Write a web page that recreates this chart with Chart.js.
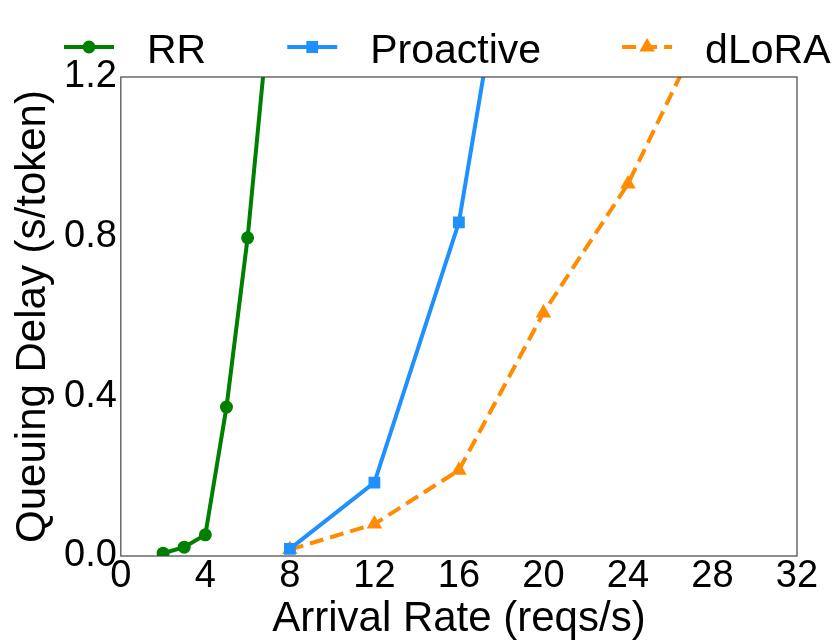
<!DOCTYPE html>
<html>
<head>
<meta charset="utf-8">
<script src="https://cdn.jsdelivr.net/npm/chart.js@4"></script>
<style>
  html, body { margin: 0; padding: 0; background: #fff; }
  #wrap { width: 838px; height: 640px; }
</style>
</head>
<body>
<div id="wrap"><canvas id="myChart"></canvas></div>
<script>
const FONT = "'Liberation Sans', Arial, sans-serif";

// arrival rate (reqs/s) -> queuing delay (s/token)
const rrRates = [2, 3, 4, 5, 6, 7];
const rrDelay = [0.007, 0.022, 0.053, 0.373, 0.797, 1.35];

const proactiveRates = [8, 12, 16, 20];
const proactiveDelay = [0.018, 0.184, 0.836, 2.1];

const dloraRates = [8, 12, 16, 20, 24, 28];
const dloraDelay = [0.016, 0.08, 0.215, 0.609, 0.932, 1.37];

const xTicks = [0, 4, 8, 12, 16, 20, 24, 28, 32];
const yTicks = [0, 0.4, 0.8, 1.2];

function toPoints(xs, ys) {
  return xs.map((x, i) => ({ x: x, y: ys[i] }));
}

// box around the plot area
const frame = {
  id: "frame",
  afterDraw(chart) {
    const { ctx, chartArea: a } = chart;
    ctx.save();
    ctx.strokeStyle = "#444";
    ctx.lineWidth = 1.2;
    ctx.strokeRect(a.left, a.top, a.right - a.left, a.bottom - a.top);
    ctx.restore();
  },
};

// legend row above the plot: line sample with marker, then name
const lineLegend = {
  id: "lineLegend",
  afterDraw(chart) {
    const ctx = chart.ctx;
    ctx.save();
    ctx.font = "41px " + FONT;
    ctx.textBaseline = "alphabetic";
    ctx.fillStyle = "#000";
    let x = 64;
    const y = 47;
    chart.data.datasets.forEach((ds) => {
      ctx.save();
      ctx.strokeStyle = ds.borderColor;
      ctx.lineWidth = ds.borderWidth;
      ctx.setLineDash(ds.borderDash || []);
      ctx.beginPath();
      ctx.moveTo(x, y);
      ctx.lineTo(x + 50, y);
      ctx.stroke();
      ctx.setLineDash([]);
      ctx.fillStyle = ds.pointBackgroundColor;
      ctx.strokeStyle = ds.pointBorderColor;
      Chart.helpers.drawPoint(ctx, {
        pointStyle: ds.pointStyle,
        radius: ds.pointRadius,
        rotation: 0,
        borderWidth: 1,
      }, x + 25, y);
      ctx.restore();
      ctx.fillText(ds.label, x + 83, 63);
      x = x + 83 + ctx.measureText(ds.label).width + 81;
    });
    ctx.restore();
  },
};

const data = {
  datasets: [
    {
      label: "RR",
      data: toPoints(rrRates, rrDelay),
      borderColor: "#008000",
      borderWidth: 4,
      pointStyle: "circle",
      pointRadius: 4.5,
      pointBackgroundColor: "#008000",
      pointBorderColor: "#008000",
    },
    {
      label: "Proactive",
      data: toPoints(proactiveRates, proactiveDelay),
      borderColor: "#1E90FF",
      borderWidth: 4,
      pointStyle: "rect",
      pointRadius: 5.5,
      pointBackgroundColor: "#1E90FF",
      pointBorderColor: "#1E90FF",
    },
    {
      label: "dLoRA",
      data: toPoints(dloraRates, dloraDelay),
      borderColor: "#FF8C00",
      borderWidth: 4,
      borderDash: [14, 7],
      pointStyle: "triangle",
      pointRadius: 5,
      pointBackgroundColor: "#FF8C00",
      pointBorderColor: "#FF8C00",
    },
  ],
};

const config = {
  type: "line",
  data: data,
  options: {
    responsive: true,
    maintainAspectRatio: false,
    animation: false,
    layout: { padding: { left: 12, right: 41, top: 77, bottom: 0 } },
    plugins: {
      legend: { display: false },
      tooltip: { enabled: false },
    },
    scales: {
      x: {
        type: "linear",
        min: 0,
        max: 32,
        grid: { display: false, drawTicks: false },
        border: { display: false },
        afterBuildTicks: (axis) => { axis.ticks = xTicks.map((v) => ({ value: v })); },
        ticks: {
          padding: 2,
          color: "#000",
          font: { family: FONT, size: 38, lineHeight: 1 },
        },
        title: {
          display: true,
          text: "Arrival Rate (reqs/s)",
          color: "#000",
          padding: 0,
          font: { family: FONT, size: 42, lineHeight: 1 },
        },
      },
      y: {
        min: 0,
        max: 1.2,
        grid: { display: false, drawTicks: false },
        border: { display: false },
        afterBuildTicks: (axis) => { axis.ticks = yTicks.map((v) => ({ value: v })); },
        ticks: {
          padding: 4,
          color: "#000",
          font: { family: FONT, size: 38, lineHeight: 1 },
          callback: (v) => Number(v).toFixed(1),
        },
        title: {
          display: true,
          text: "Queuing Delay (s/token)",
          color: "#000",
          padding: { top: 0, bottom: 6 },
          font: { family: FONT, size: 42, lineHeight: 1 },
        },
      },
    },
  },
  plugins: [frame, lineLegend],
};

const myChart = new Chart(document.getElementById("myChart"), config);
</script>
</body>
</html>
